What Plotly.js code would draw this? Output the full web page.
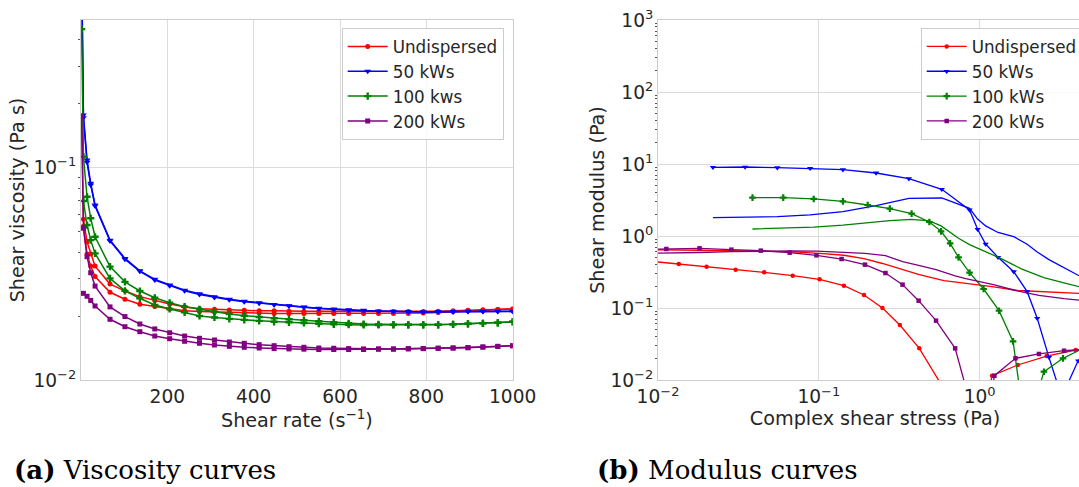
<!DOCTYPE html>
<html><head><meta charset="utf-8">
<script src="https://cdn.plot.ly/plotly-3.0.1.min.js"></script>
<style>html,body{margin:0;padding:0;overflow:hidden;background:#fff;width:1079px;height:487px}#chart{width:1100px;height:487px}</style>
</head><body><div id="chart"></div><script>
// ---------- (a) Viscosity curves ----------
const shearRate = [1.5, 5.6, 14, 22.5, 32.6, 67.2, 101.8, 136.3, 170.9, 205.4, 240, 274.5, 309.1, 343.6, 378.2, 412.7, 447.3, 481.8, 516.4, 550.9, 585.5, 620, 654.6, 689.1, 723.7, 758.2, 792.8, 827.3, 861.9, 896.4, 931, 965.5, 1000];
const viscUndispA = [0.175,0.0572,0.0448,0.0392,0.0344,0.0283,0.0263,0.0247,0.0237,0.0228,0.02215,0.02167,0.02153,0.02137,0.02129,0.0212,0.0212,0.0211,0.0211,0.0211,0.0211,0.0211,0.0210,0.0210,0.0210,0.0210,0.0210,0.0211,0.0212,0.0213,0.0214,0.0215,0.0216];
const viscUndispB = [null,0.053,0.0392,0.0344,0.0307,0.0259,0.0240,0.02273,0.0222,0.0216,0.0212,0.0210,0.0209,0.0208,0.0207,0.0207,0.0206,0.0206,0.0206,0.0206,0.0206,0.0206,0.0206,0.0206,0.0206,0.0206,0.0207,0.0208,0.0210,0.0212,0.0213,0.0215,0.0216];
const visc50A = [0.9,0.177,0.1087,0.0844,0.0668,0.0456,0.0374,0.0327,0.0298,0.0280,0.0265,0.0255,0.0247,0.0240,0.0235,0.0231,0.0227,0.0224,0.0221,0.0218,0.0216,0.0214,0.0213,0.0211,0.0211,0.0210,0.0209,0.0210,0.0210,0.0211,0.0211,0.0211,0.0211];
const visc50B = [0.85,0.172,0.106,0.0830,0.0660,0.0452,0.0371,0.0325,0.0296,0.0278,0.0263,0.0253,0.0245,0.0239,0.0234,0.0230,0.0226,0.0223,0.0220,0.0217,0.0215,0.0213,0.0212,0.0211,0.0210,0.0209,0.0209,0.0209,0.0209,0.0210,0.0210,0.0210,0.0210];
const visc100A = [0.45,0.1127,0.0730,0.0578,0.0473,0.0342,0.0290,0.02626,0.0244,0.02312,0.02215,0.02153,0.02097,0.02046,0.02009,0.01981,0.01953,0.01932,0.01913,0.01891,0.0187,0.0185,0.01836,0.01829,0.01823,0.0182,0.0182,0.0182,0.0183,0.0184,0.0185,0.0186,0.0188];
const visc100B = [null,0.0697,0.0537,0.0456,0.0395,0.0301,0.0263,0.02426,0.02256,0.0216,0.02084,0.02002,0.0197,0.0194,0.0192,0.0190,0.0188,0.0187,0.01856,0.01842,0.0183,0.01822,0.01816,0.01816,0.01818,0.0182,0.0182,0.0182,0.0183,0.0184,0.0185,0.0186,0.0188];
const visc200A = [0.175,0.0518,0.0381,0.032,0.0277,0.0221,0.0199,0.01836,0.0174,0.0167,0.01611,0.01572,0.01543,0.0151,0.01489,0.01467,0.01451,0.01435,0.01426,0.01415,0.01411,0.01406,0.01401,0.01401,0.01401,0.01406,0.01406,0.01411,0.01415,0.0142,0.0143,0.0144,0.01451];
const visc200B = [null,0.0256,0.0248,0.0237,0.02232,0.01932,0.01783,0.01689,0.01611,0.01565,0.01522,0.01489,0.01462,0.01441,0.01426,0.01415,0.01406,0.01401,0.01397,0.01392,0.01392,0.01392,0.01392,0.01397,0.01397,0.01401,0.01406,0.01411,0.01415,0.0142,0.0143,0.0144,0.01451];
const rateTickVals = [200, 400, 600, 800, 1000];
const rateTickText = ['200', '400', '600', '800', '1000'];
const viscTickVals = [0.01, 0.1];
const viscTickText = ['10<sup>−2</sup>', '10<sup>−1</sup>'];
const leftNames = ['Undispersed', '50 kWs', '100 kws', '200 kWs'];

// ---------- (b) Modulus curves ----------
const stressUndisp = [0.0095,0.01346,0.02005,0.0304,0.04574,0.0688,0.1010,0.1433,0.191,0.2488,0.3192,0.4217,0.60,1.13,1.195,1.728,2.61,3.96,4.9];
const gpUndisp  = [0.44,0.4084,0.375,0.3406,0.3129,0.2812,0.25,0.2042,0.1516,0.1,0.058,0.02753,0.0075,0.006,0.01148,0.01616,0.0215,0.0261,0.028];
const gppUndisp = [0.645,0.64,0.632,0.625,0.615,0.60,0.575,0.54,0.485,0.415,0.35,0.29,0.24,0.202,0.198,0.175,0.167,0.16,0.157];
const stress50 = [0.02196,0.0348,0.0552,0.0883,0.1413,0.2271,0.3634,0.5816,0.866,0.9716,1.090,1.302,1.631,1.976,2.282,2.70,3.31,3.5,4.10,4.8];
const gp50  = [8.99,9.08,8.89,8.71,8.34,7.50,6.26,4.45,2.30,1.238,0.774,0.5055,0.3197,0.1686,0.0719,0.02065,0.005,0.0085,0.0185,0.03];
const gpp50 = [1.80,1.82,1.86,1.96,2.18,2.65,3.34,3.37,2.42,1.72,1.38,1.12,0.98,0.77,0.60,0.47,0.37,0.345,0.285,0.25];
const stress100 = [0.0387,0.0601,0.0930,0.1413,0.2014,0.2764,0.3777,0.4870,0.576,0.6558,0.7393,0.866,1.059,1.321,1.615,1.82,2.35,2.512,3.30,4.9];
const gp100  = [3.41,3.41,3.27,3.03,2.695,2.397,2.043,1.565,1.161,0.791,0.5055,0.3096,0.1836,0.0918,0.0344,0.005,0.008,0.01303,0.020,0.031];
const gpp100 = [1.25,1.28,1.33,1.42,1.53,1.64,1.70,1.62,1.38,1.12,0.93,0.76,0.63,0.50,0.40,0.35,0.28,0.265,0.225,0.18];
const stress200 = [0.0085,0.01127,0.01813,0.0286,0.0436,0.0659,0.0967,0.1386,0.1938,0.2598,0.3318,0.4177,0.536,0.7047,0.82,1.18,1.236,1.671,2.34,3.35,4.8];
const gp200  = [0.655,0.66,0.674,0.646,0.626,0.587,0.539,0.479,0.40,0.306,0.211,0.1264,0.0667,0.02753,0.008,0.006,0.01148,0.02,0.023,0.0255,0.027];
const gpp200 = [0.575,0.578,0.59,0.605,0.615,0.62,0.615,0.60,0.575,0.535,0.44,0.39,0.34,0.28,0.255,0.215,0.21,0.175,0.15,0.135,0.125];
const stressTickVals = [0.01, 0.1, 1, 10];
const stressTickText = ['10<sup>−2</sup>', '10<sup>−1</sup>', '10<sup>0</sup>', '10<sup>1</sup>'];
const modTickVals = [0.01, 0.1, 1, 10, 100, 1000];
const modTickText = ['10<sup>−2</sup>', '10<sup>−1</sup>', '10<sup>0</sup>', '10<sup>1</sup>', '10<sup>2</sup>', '10<sup>3</sup>'];
const rightNames = ['Undispersed', '50 kWs', '100 kWs', '200 kWs'];

const captionA = '<b>(a)</b> Viscosity curves';
const captionB = '<b>(b)</b> Modulus curves';

// ---------- styling ----------
const colors = ['#ff0000', '#0000ff', '#008000', '#800080'];
const symbols = ['circle', 'triangle-down', 'cross', 'square'];
const msizeL = [5, 6, 6, 5];
const msizeR = [4.5, 5.5, 5.5, 4.5];
const W = 1100, H = 487;

const traces = [];
const leftA = [viscUndispA, visc50A, visc100A, visc200A];
const leftB = [viscUndispB, visc50B, visc100B, visc200B];
for (let i = 0; i < 4; i++) {
  traces.push({x: shearRate, y: leftA[i], xaxis: 'x', yaxis: 'y', mode: 'lines+markers', name: leftNames[i],
    legend: 'legend', line: {color: colors[i], width: 1.5}, marker: {symbol: symbols[i], size: msizeL[i], color: colors[i]},
    cliponaxis: true});
  traces.push({x: shearRate, y: leftB[i], xaxis: 'x', yaxis: 'y', mode: 'lines+markers', name: leftNames[i],
    showlegend: false, line: {color: colors[i], width: 1.5}, marker: {symbol: symbols[i], size: msizeL[i], color: colors[i]},
    cliponaxis: true});
}
const rStress = [stressUndisp, stress50, stress100, stress200];
const rGp = [gpUndisp, gp50, gp100, gp200];
const rGpp = [gppUndisp, gpp50, gpp100, gpp200];
for (let i = 0; i < 4; i++) {
  traces.push({x: rStress[i], y: rGp[i], xaxis: 'x2', yaxis: 'y2', mode: 'lines+markers', name: rightNames[i],
    legend: 'legend2', line: {color: colors[i], width: 1.3}, marker: {symbol: symbols[i], size: msizeR[i], color: colors[i]},
    cliponaxis: true});
  traces.push({x: rStress[i], y: rGpp[i], xaxis: 'x2', yaxis: 'y2', mode: 'lines', name: rightNames[i] + " G''",
    showlegend: false, line: {color: colors[i], width: 1.3}, cliponaxis: true});
}

function minorVals(lo, hi) {
  const v = [];
  for (let e = lo; e < hi; e++) for (let m = 2; m <= 9; m++) v.push(m * Math.pow(10, e));
  return v;
}

const axisCommon = {showline: true, linecolor: '#cccccc', linewidth: 1, mirror: true, showgrid: true,
  gridcolor: '#dcdcdc', gridwidth: 1, zeroline: false, ticks: '', tickfont: {size: 18.6, color: '#262626'},
  tickmode: 'array'};

const yDom = [107 / H, 467 / H];
const layout = {
  width: W, height: H, margin: {l: 0, r: 0, t: 0, b: 0},
  paper_bgcolor: '#ffffff', plot_bgcolor: '#ffffff',
  font: {family: 'DejaVu Sans', size: 18, color: '#262626'},
  xaxis: Object.assign({}, axisCommon, {domain: [81 / W, 512.7 / W], range: [0, 1000], anchor: 'y',
    tickvals: rateTickVals, ticktext: rateTickText,
    title: {text: 'Shear rate (s<sup>−1</sup>)', font: {size: 19.2}, standoff: 0}}),
  yaxis: Object.assign({}, axisCommon, {domain: yDom, type: 'log', range: [-2, -0.304], anchor: 'x',
    tickvals: viscTickVals, ticktext: viscTickText,
    minor: {tickmode: 'array', tickvals: minorVals(-2, 0), ticks: 'outside', ticklen: 2, tickcolor: '#555', showgrid: false},
    title: {text: 'Shear viscosity (Pa s)', font: {size: 19.2}, standoff: 3}}),
  xaxis2: Object.assign({}, axisCommon, {domain: [658 / W, 1092 / W], type: 'log', range: [-2, 0.699], anchor: 'y2',
    tickvals: stressTickVals, ticktext: stressTickText,
    title: {text: 'Complex shear stress (Pa)', font: {size: 19.2}, standoff: 0}}),
  yaxis2: Object.assign({}, axisCommon, {domain: yDom, type: 'log', range: [-2, 3], anchor: 'x2',
    tickvals: modTickVals, ticktext: modTickText,
    minor: {tickmode: 'array', tickvals: minorVals(-2, 3), ticks: 'outside', ticklen: 2, tickcolor: '#555', showgrid: false},
    title: {text: 'Shear modulus (Pa)', font: {size: 19.2}, standoff: 0}}),
  legend: {x: 341.7 / W, y: 1 - 28 / H, xanchor: 'left', yanchor: 'top', bgcolor: 'rgba(255,255,255,0.85)',
    bordercolor: '#cccccc', borderwidth: 1, font: {size: 16.8, color: '#262626'}, itemwidth: 40, tracegroupgap: 0},
  legend2: {x: 920.7 / W, y: 1 - 28 / H, xanchor: 'left', yanchor: 'top', bgcolor: 'rgba(255,255,255,0.85)',
    bordercolor: '#cccccc', borderwidth: 1, font: {size: 16.8, color: '#262626'}, itemwidth: 40, tracegroupgap: 0},
  annotations: [
    {text: captionA, xref: 'paper', yref: 'paper', x: 12 / W, y: 0, xanchor: 'left', yanchor: 'bottom',
      showarrow: false, font: {family: 'DejaVu Serif', size: 26, color: '#000000'}},
    {text: captionB, xref: 'paper', yref: 'paper', x: 595 / W, y: 0, xanchor: 'left', yanchor: 'bottom',
      showarrow: false, font: {family: 'DejaVu Serif', size: 26, color: '#000000'}}
  ]
};

Plotly.newPlot('chart', traces, layout, {displayModeBar: false, staticPlot: true});
</script></body></html>
